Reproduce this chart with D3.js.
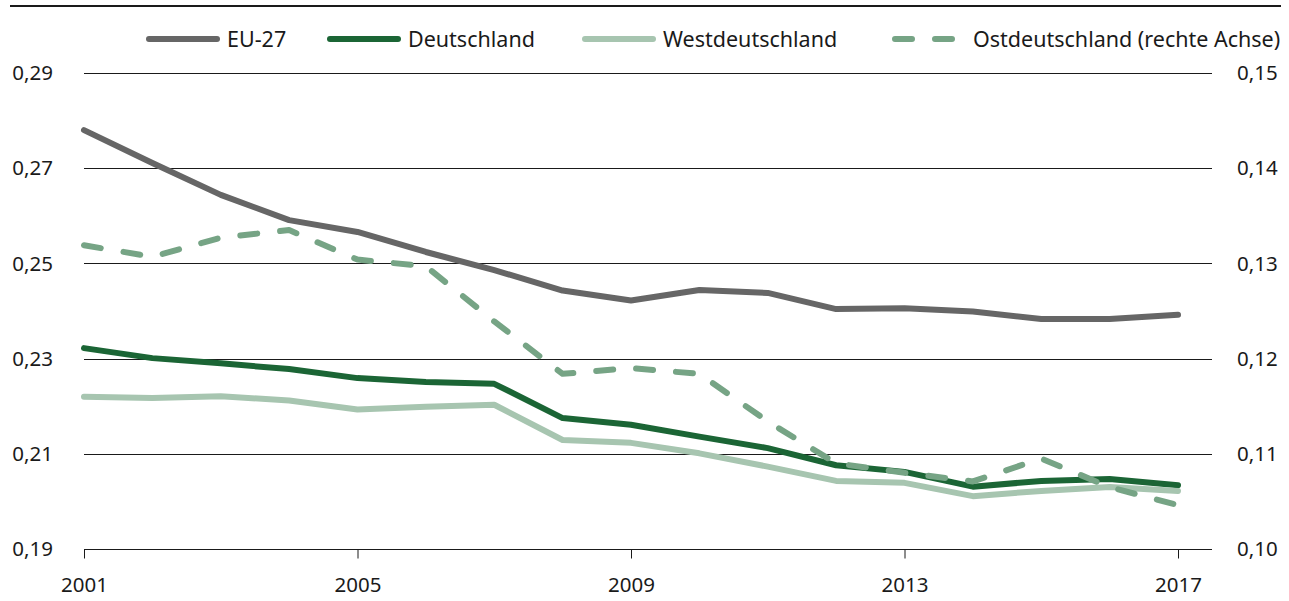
<!DOCTYPE html>
<html>
<head>
<meta charset="utf-8">
<script src="https://cdn.jsdelivr.net/npm/d3@7"></script>
<style>
    body { margin: 0; background: #fff; }
    svg text { font-family: "Noto Sans", sans-serif; fill: #1a1a1a; }
</style>
</head>
<body>
<script>
"use strict";

const years = d3.range(2001, 2018);
const eu27 = [0.2780, 0.2711, 0.2644, 0.2591, 0.2566, 0.2524, 0.2486, 0.2443, 0.2422,
              0.2444, 0.2438, 0.2404, 0.2406, 0.2399, 0.2383, 0.2383, 0.2392];
const deutschland = [0.2322, 0.2301, 0.2290, 0.2278, 0.2259, 0.2251, 0.2247, 0.2175, 0.2161,
                     0.2136, 0.2112, 0.2076, 0.2062, 0.2031, 0.2043, 0.2047, 0.2034];
const westdeutschland = [0.2220, 0.2217, 0.2221, 0.2212, 0.2193, 0.2199, 0.2203, 0.2129, 0.2123,
                         0.2101, 0.2073, 0.2043, 0.2039, 0.2011, 0.2022, 0.2030, 0.2022];
const ostdeutschland = [0.1319, 0.1307, 0.1327, 0.1335, 0.1304, 0.1297, 0.1239, 0.1184, 0.1190,
                        0.1184, 0.1134, 0.1090, 0.1080, 0.1071, 0.1095, 0.1065, 0.1046];
const leftTicks = [0.19, 0.21, 0.23, 0.25, 0.27, 0.29];
const rightTicks = [0.10, 0.11, 0.12, 0.13, 0.14, 0.15];
const xTicks = [2001, 2005, 2009, 2013, 2017];

const series = [
    { name: "EU-27", values: eu27, color: "#666666", axis: "left", dash: null },
    { name: "Deutschland", values: deutschland, color: "#1b6535", axis: "left", dash: null },
    { name: "Westdeutschland", values: westdeutschland, color: "#a7c5b0", axis: "left", dash: null },
    { name: "Ostdeutschland (rechte Achse)", values: ostdeutschland, color: "#76a485", axis: "right", dash: "17,23" }
];

const width = 1289, height = 601;
const margin = { top: 73, right: 77, bottom: 52, left: 84 };
const fontSize = "20.5px";

const svg = d3.select("body").append("svg")
    .attr("width", width)
    .attr("height", height);

const x = d3.scaleLinear().domain([2001, 2017]).range([margin.left, 1178]);
const yLeft = d3.scaleLinear().domain([0.19, 0.29]).range([height - margin.bottom, margin.top]);
const yRight = d3.scaleLinear().domain([0.10, 0.15]).range([height - margin.bottom, margin.top]);
const fmt = v => d3.format(".2f")(v).replace(".", ",");
const gridEnd = 1212;

// top rule
svg.append("line")
    .attr("x1", 10).attr("x2", 1281)
    .attr("y1", 6).attr("y2", 6)
    .attr("stroke", "#1a1a1a")
    .attr("stroke-width", 2);

// grid lines
svg.append("g").selectAll("line")
    .data(leftTicks)
    .join("line")
    .attr("x1", margin.left).attr("x2", gridEnd)
    .attr("y1", d => Math.round(yLeft(d)) + 0.5)
    .attr("y2", d => Math.round(yLeft(d)) + 0.5)
    .attr("stroke", "#1a1a1a")
    .attr("stroke-width", 1);

// left labels
svg.append("g").selectAll("text")
    .data(leftTicks)
    .join("text")
    .attr("x", 53)
    .attr("y", d => yLeft(d))
    .attr("dy", "0.35em")
    .attr("text-anchor", "end")
    .style("font-size", fontSize)
    .text(fmt);

// right labels
svg.append("g").selectAll("text")
    .data(rightTicks)
    .join("text")
    .attr("x", 1237)
    .attr("y", d => yRight(d))
    .attr("dy", "0.35em")
    .style("font-size", fontSize)
    .text(fmt);

// x axis
const xAxis = svg.append("g")
    .attr("transform", `translate(0, ${Math.round(yLeft(0.19)) + 0.5})`)
    .call(d3.axisBottom(x).tickValues(xTicks).tickFormat(d3.format("d"))
        .tickSize(9).tickSizeOuter(0).tickPadding(19));
xAxis.select(".domain").remove();
xAxis.selectAll(".tick line").attr("stroke", "#1a1a1a");
xAxis.selectAll(".tick text")
    .attr("fill", "#1a1a1a")
    .style("font-size", fontSize)
    .style("font-family", "\"Noto Sans\", sans-serif");

// lines
const plot = svg.append("g");
series.forEach(s => {
    const y = s.axis === "left" ? yLeft : yRight;
    const line = d3.line()
        .x((d, i) => x(years[i]))
        .y(d => y(d));
    plot.append("path")
        .datum(s.values)
        .attr("fill", "none")
        .attr("stroke", s.color)
        .attr("stroke-width", 6)
        .attr("stroke-linecap", "round")
        .attr("stroke-linejoin", "round")
        .attr("stroke-dasharray", s.dash)
        .attr("d", line);
});

// legend
const legendX = [149, 330, 585, 895];
const legend = svg.append("g").selectAll("g")
    .data(series)
    .join("g")
    .attr("transform", (d, i) => `translate(${legendX[i]}, 39)`);
legend.append("line")
    .attr("x1", 0).attr("x2", d => d.dash ? 67 : 68)
    .attr("stroke", d => d.color)
    .attr("stroke-width", 6)
    .attr("stroke-linecap", "round")
    .attr("stroke-dasharray", d => d.dash);
legend.append("text")
    .attr("x", 78)
    .attr("dy", "0.35em")
    .style("font-size", "21.5px")
    .text(d => d.name);
</script>
</body>
</html>
